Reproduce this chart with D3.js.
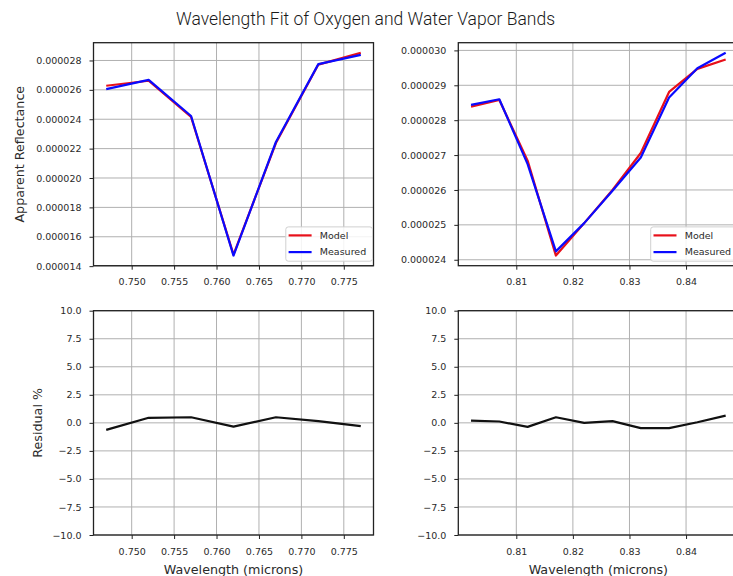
<!DOCTYPE html>
<html><head><meta charset="utf-8">
<script src="https://cdn.jsdelivr.net/npm/d3@7"></script>
<style>body{margin:0;background:#fff}svg{display:block}</style>
</head><body>
<svg id="chart" width="733" height="576"></svg>
<script>
// ---- data ----
const titleText = "Wavelength Fit of Oxygen and Water Vapor Bands";
const seriesNames = ["Model", "Measured"];

const oxyWavelength = [0.747, 0.752, 0.757, 0.762, 0.767, 0.772, 0.777];
const oxyModel      = [26.28e-6, 26.62e-6, 24.15e-6, 14.78e-6, 22.38e-6, 27.72e-6, 28.52e-6];
const oxyMeasured   = [26.05e-6, 26.68e-6, 24.22e-6, 14.72e-6, 22.45e-6, 27.75e-6, 28.38e-6];
const oxyResidual   = [-0.63, 0.45, 0.5, -0.33, 0.5, 0.15, -0.3];

const h2oWavelength = [0.802, 0.807, 0.812, 0.817, 0.822, 0.827, 0.832, 0.837, 0.842, 0.847];
const h2oModel      = [28.39e-6, 28.58e-6, 26.84e-6, 24.12e-6, 25.05e-6, 26.0e-6, 27.06e-6, 28.81e-6, 29.47e-6, 29.74e-6];
const h2oMeasured   = [28.44e-6, 28.6e-6, 26.74e-6, 24.24e-6, 25.05e-6, 25.98e-6, 26.93e-6, 28.65e-6, 29.49e-6, 29.93e-6];
const h2oResidual   = [0.2, 0.12, -0.36, 0.5, 0.0, 0.15, -0.47, -0.47, 0.05, 0.65];

const oxyXTicks = [0.750, 0.755, 0.760, 0.765, 0.770, 0.775];
const h2oXTicks = [0.81, 0.82, 0.83, 0.84];
const oxyYTicks = [14e-6, 16e-6, 18e-6, 20e-6, 22e-6, 24e-6, 26e-6, 28e-6];
const h2oYTicks = [24e-6, 25e-6, 26e-6, 27e-6, 28e-6, 29e-6, 30e-6];
const residualTicks = [-10, -7.5, -5, -2.5, 0, 2.5, 5, 7.5, 10];
const residualDomain = [-10, 10];

const xLabel = "Wavelength (microns)";
const yLabelTop = "Apparent Reflectance";
const yLabelBottom = "Residual %";

// ---- layout/style ----
const COLORS = {Model: "#e8101a", Measured: "#0a0aff", residual: "#111"};
const TICKFONT = "DejaVu Sans, sans-serif";
const svg = d3.select("#chart");

function padded(vals, frac = 0.05) {
  const lo = d3.min(vals), hi = d3.max(vals), r = hi - lo;
  return [lo - r * frac, hi + r * frac];
}

svg.append("text")
  .attr("x", 365.5).attr("y", 25)
  .attr("text-anchor", "middle")
  .attr("font-family", "Roboto, 'Liberation Sans', sans-serif")
  .attr("font-weight", 300)
  .attr("font-size", 17.5)
  .attr("fill", "#1a1a1a")
  .text(titleText);

let clipId = 0;
function panel(opt) {
  const {x0, x1, y0, y1} = opt;
  const x = d3.scaleLinear().domain(opt.xDomain).range([x0, x1]);
  const y = d3.scaleLinear().domain(opt.yDomain).range([y1, y0]);
  const g = svg.append("g");

  // grid
  g.append("g").selectAll("line").data(opt.xTicks).join("line")
    .attr("x1", d => x(d)).attr("x2", d => x(d)).attr("y1", y0).attr("y2", y1)
    .attr("stroke", "#b0b0b0").attr("stroke-width", 1);
  g.append("g").selectAll("line").data(opt.yTicks).join("line")
    .attr("y1", d => y(d)).attr("y2", d => y(d)).attr("x1", x0).attr("x2", x1)
    .attr("stroke", "#b0b0b0").attr("stroke-width", 1);

  // clip
  const id = "clip" + (clipId++);
  svg.append("clipPath").attr("id", id).append("rect")
    .attr("x", x0).attr("y", y0).attr("width", x1 - x0).attr("height", y1 - y0);

  const line = d3.line().x(d => x(d[0])).y(d => y(d[1]));
  const lg = g.append("g").attr("clip-path", `url(#${id})`);
  opt.series.forEach(s => {
    lg.append("path")
      .datum(opt.xs.map((v, i) => [v, s.values[i]]))
      .attr("d", line).attr("fill", "none")
      .attr("stroke", s.color).attr("stroke-width", 2.2)
      .attr("stroke-linejoin", "round").attr("stroke-linecap", "butt");
  });

  // axes
  const ax = g.append("g").attr("transform", `translate(0,${y1})`)
    .call(d3.axisBottom(x).tickValues(opt.xTicks).tickFormat(opt.xFmt).tickSize(4).tickPadding(9));
  const ay = g.append("g").attr("transform", `translate(${x0},0)`)
    .call(d3.axisLeft(y).tickValues(opt.yTicks).tickFormat(opt.yFmt).tickSize(4).tickPadding(8));
  [ax, ay].forEach(a => {
    a.select(".domain").remove();
    a.selectAll(".tick line").attr("stroke", "#222").attr("stroke-width", 1);
    a.selectAll(".tick text").attr("font-family", TICKFONT).attr("font-size", 9.5).attr("fill", "#2a2a2a");
  });

  // spines
  g.append("rect").attr("x", x0).attr("y", y0).attr("width", x1 - x0).attr("height", y1 - y0)
    .attr("fill", "none").attr("stroke", "#222").attr("stroke-width", 1.3);

  // labels
  if (opt.xlabel) {
    g.append("text").attr("x", (x0 + x1) / 2).attr("y", 573.5)
      .attr("text-anchor", "middle").attr("font-family", TICKFONT).attr("font-size", 12.7)
      .attr("fill", "#2a2a2a").text(opt.xlabel);
  }
  if (opt.ylabel) {
    const cy = (y0 + y1) / 2;
    g.append("text").attr("transform", `translate(${opt.ylabelX},${cy}) rotate(-90)`)
      .attr("text-anchor", "middle").attr("dy", "0.35em")
      .attr("font-family", TICKFONT).attr("font-size", 12.7)
      .attr("fill", "#2a2a2a").text(opt.ylabel);
  }

  // legend
  if (opt.legend) {
    const bw = 86.7, bh = 34.3;
    const bx = x1 - 1 - bw, by = y1 - 4.5 - bh;
    const lgd = g.append("g").attr("transform", `translate(${bx},${by})`);
    lgd.append("rect").attr("width", bw).attr("height", bh).attr("rx", 2.5)
      .attr("fill", "#fff").attr("fill-opacity", 0.85)
      .attr("stroke", "#d0d0d0").attr("stroke-width", 1);
    opt.series.forEach((s, i) => {
      const yy = 8.5 + i * 16.7;
      lgd.append("line").attr("x1", 2.8).attr("x2", 25.8).attr("y1", yy).attr("y2", yy)
        .attr("stroke", s.color).attr("stroke-width", 2.2);
      lgd.append("text").attr("x", 34).attr("y", yy).attr("dy", "0.35em")
        .attr("font-family", TICKFONT).attr("font-size", 9.5).attr("fill", "#2a2a2a")
        .text(s.name);
    });
  }
}

const L = {x0: 93.5, x1: 373.5};
const R = {x0: 458.3, x1: 738.4};
const T = {y0: 42.7, y1: 265.7};
const B = {y0: 310.7, y1: 535};

const fmt6 = d3.format(".6f");
const fmt3 = d3.format(".3f");
const fmt2 = d3.format(".2f");
const fmt1 = d3.format(".1f");

panel({...L, ...T, xs: oxyWavelength, xDomain: padded(oxyWavelength),
  yDomain: padded(oxyModel.concat(oxyMeasured)),
  xTicks: oxyXTicks, yTicks: oxyYTicks, xFmt: fmt3, yFmt: fmt6,
  series: [{name: seriesNames[0], values: oxyModel, color: COLORS.Model},
           {name: seriesNames[1], values: oxyMeasured, color: COLORS.Measured}],
  legend: true, ylabel: yLabelTop, ylabelX: 20});

panel({...R, ...T, xs: h2oWavelength, xDomain: padded(h2oWavelength),
  yDomain: padded(h2oModel.concat(h2oMeasured)),
  xTicks: h2oXTicks, yTicks: h2oYTicks, xFmt: fmt2, yFmt: fmt6,
  series: [{name: seriesNames[0], values: h2oModel, color: COLORS.Model},
           {name: seriesNames[1], values: h2oMeasured, color: COLORS.Measured}],
  legend: true});

panel({...L, ...B, xs: oxyWavelength, xDomain: padded(oxyWavelength),
  yDomain: residualDomain, xTicks: oxyXTicks, yTicks: residualTicks, xFmt: fmt3, yFmt: fmt1,
  series: [{name: "Residual", values: oxyResidual, color: COLORS.residual}],
  xlabel: xLabel, ylabel: yLabelBottom, ylabelX: 37.3});

panel({...R, ...B, xs: h2oWavelength, xDomain: padded(h2oWavelength),
  yDomain: residualDomain, xTicks: h2oXTicks, yTicks: residualTicks, xFmt: fmt2, yFmt: fmt1,
  series: [{name: "Residual", values: h2oResidual, color: COLORS.residual}],
  xlabel: xLabel});
</script>
</body></html>
